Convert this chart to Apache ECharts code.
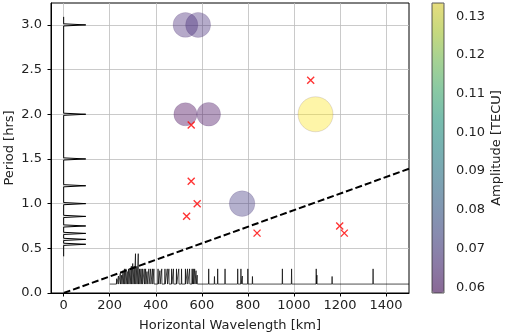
<!DOCTYPE html>
<html>
<head>
<meta charset="utf-8">
<script src="https://cdn.jsdelivr.net/npm/echarts@6/dist/echarts.min.js"></script>
<style>html,body{margin:0;padding:0;background:#fff}#chart{width:505px;height:335px}</style>
</head>
<body>
<div id="chart"></div>
<script>
// circles: wavelength [km], period [hrs], amplitude [TECU]
var circleX = [529, 584, 529, 630, 1094, 775];
var circleY = [3.0, 3.0, 2.0, 2.0, 2.0, 1.0];
var circleAmp = [0.067, 0.068, 0.0585, 0.061, 0.1334, 0.071];

// red crosses
var crossX = [1073, 554, 554, 580, 534, 1199, 1219, 840];
var crossY = [2.38, 1.88, 1.25, 1.0, 0.86, 0.75, 0.67, 0.67];

// dashed line
var dashX = [0, 1500];
var dashY = [0, 1.39];

// left spectrum (period peaks)
var leftPeriods = [0.545, 0.6, 0.667, 0.75, 0.857, 1.0, 1.2, 1.5, 2.0, 3.0];
var leftAmp = [96, 96, 96, 96, 96, 96, 96, 96, 96, 96];
var leftRange = [0.41, 3.09];

// bottom spectrum (wavelength peaks)
var bottomX = [230, 238, 246, 252, 258, 264, 270, 276, 282, 288, 294, 300, 306, 312, 318, 324, 330, 336, 342,
    350, 356, 362, 370, 378, 386, 392, 410, 418, 426, 440, 450, 457, 469, 477, 490, 500, 512, 529, 538, 547,
    558, 563, 569, 575, 580, 630, 655, 669, 701, 756, 770, 776, 800, 820, 950, 990, 1097, 1100, 1166, 1344];
var bottomTop = [0.16, 0.19, 0.22, 0.2, 0.25, 0.27, 0.27, 0.24, 0.27, 0.27, 0.3, 0.33, 0.3, 0.44, 0.3, 0.44, 0.27, 0.27, 0.27,
    0.27, 0.27, 0.24, 0.27, 0.27, 0.27, 0.27, 0.27, 0.25, 0.27, 0.27, 0.27, 0.27, 0.27, 0.27, 0.27, 0.27, 0.27, 0.27, 0.27, 0.27,
    0.27, 0.27, 0.27, 0.25, 0.2, 0.27, 0.185, 0.27, 0.27, 0.27, 0.27, 0.19, 0.27, 0.185, 0.27, 0.27, 0.27, 0.2, 0.185, 0.27];
var bottomBase = 0.1;
var bottomRange = [200, 1500];

var xTicks = [0, 200, 400, 600, 800, 1000, 1200, 1400];
var yTicks = [0, 0.5, 1.0, 1.5, 2.0, 2.5, 3.0];
var cbTicks = [0.06, 0.07, 0.08, 0.09, 0.10, 0.11, 0.12, 0.13];

var viridis = ['#440154', '#482475', '#414487', '#355f8d', '#2a788e', '#21918c',
    '#22a884', '#44bf70', '#7ad151', '#bddf26', '#fde725'];

var myChart = echarts.init(document.getElementById('chart'));

var circleData = [];
for (var i = 0; i < circleX.length; i++) {
    circleData.push([circleX[i], circleY[i], circleAmp[i]]);
}
var crossData = [];
for (var i = 0; i < crossX.length; i++) {
    crossData.push([crossX[i], crossY[i]]);
}
var dashData = [];
for (var i = 0; i < dashX.length; i++) {
    dashData.push([dashX[i], dashY[i]]);
}

// spike lines: baseline with narrow wedges at each peak
var wy = 0.012;
var leftData = [[0, leftRange[0]]];
for (var i = 0; i < leftPeriods.length; i++) {
    leftData.push([0, leftPeriods[i] - wy], [leftAmp[i], leftPeriods[i]], [0, leftPeriods[i] + wy]);
}
leftData.push([0, leftRange[1]]);

var wx = 1;
var bottomData = [[bottomRange[0], bottomBase]];
for (var i = 0; i < bottomX.length; i++) {
    bottomData.push([bottomX[i] - wx, bottomBase], [bottomX[i], bottomTop[i]], [bottomX[i] + wx, bottomBase]);
}
bottomData.push([bottomRange[1], bottomBase]);

var font = 'DejaVu Sans';
var txt = {color: '#222', fontFamily: font, fontSize: 13};

var option = {
    animation: false,
    grid: [
        {left: 51, right: 96, top: 3, bottom: 42, show: true, borderColor: '#000', borderWidth: 1,
            outerBoundsMode: 'none'},
        {left: 432, width: 12, top: 3, height: 290, show: true, borderColor: '#333', borderWidth: 0.8,
            backgroundColor: 'transparent', z: 10, outerBoundsMode: 'none'}
    ],
    xAxis: [
        {
            type: 'value', gridIndex: 0, min: -55, max: 1500,
            name: 'Horizontal Wavelength [km]', nameLocation: 'middle', nameGap: 26, nameMoveOverlap: false,
            nameTextStyle: txt,
            axisLine: {show: true, onZero: false, lineStyle: {color: '#000'}},
            axisTick: {show: true, length: 3.5, customValues: xTicks, lineStyle: {color: '#000'}},
            axisLabel: {customValues: xTicks, margin: 6, color: '#222', fontFamily: font, fontSize: 13,
                formatter: function (v) { return String(v); }},
            splitLine: {show: true, lineStyle: {color: '#bdbdbd', width: 0.8}}
        },
        {type: 'value', gridIndex: 1, min: 0, max: 1, show: false}
    ],
    yAxis: [
        {
            type: 'value', gridIndex: 0, min: 0, max: 3.245,
            name: 'Period [hrs]', nameLocation: 'middle', nameGap: 35, nameRotate: 90, nameMoveOverlap: false,
            nameTextStyle: txt,
            axisLine: {show: true, onZero: false, lineStyle: {color: '#000'}},
            axisTick: {show: true, length: 3.5, customValues: yTicks, lineStyle: {color: '#000'}},
            axisLabel: {customValues: yTicks, margin: 9, color: '#222', fontFamily: font, fontSize: 13,
                formatter: function (v) { return v.toFixed(1); }},
            splitLine: {show: true, lineStyle: {color: '#bdbdbd', width: 0.8}}
        },
        {
            type: 'value', gridIndex: 1, min: 0.0585, max: 0.1334, position: 'right',
            name: 'Amplitude [TECU]', nameLocation: 'middle', nameGap: 46, nameRotate: 90, nameMoveOverlap: false,
            nameTextStyle: txt,
            axisLine: {show: false},
            axisTick: {show: true, length: 3.5, customValues: cbTicks, lineStyle: {color: '#000'}},
            axisLabel: {customValues: cbTicks, margin: 12, color: '#222', fontFamily: font, fontSize: 13,
                formatter: function (v) { return v.toFixed(2); }},
            splitLine: {show: false}
        }
    ],
    visualMap: {
        type: 'continuous', seriesIndex: 0, dimension: 2,
        min: 0.0585, max: 0.1334,
        left: 432, top: 3, itemWidth: 12, itemHeight: 290, padding: 0,
        text: null, showLabel: false, calculable: false, realtime: false,
        inRange: {color: viridis, colorAlpha: 0.5}
    },
    series: [
        {
            name: 'amplitude', type: 'scatter', xAxisIndex: 0, yAxisIndex: 0,
            data: circleData,
            symbolSize: function (val) { return 96 * Math.sqrt(val[2]); },
            itemStyle: {borderWidth: 1, borderColor: 'rgba(70,40,100,0.18)'},
            z: 2
        },
        {
            name: 'cross', type: 'scatter', xAxisIndex: 0, yAxisIndex: 0,
            data: crossData,
            symbol: 'path://M0,0L10,10M10,0L0,10',
            symbolSize: 7,
            itemStyle: {color: 'transparent', borderColor: '#ff0000', borderWidth: 1.4},
            z: 3
        },
        {
            name: 'period spectrum', type: 'line', xAxisIndex: 0, yAxisIndex: 0,
            data: leftData, showSymbol: false, symbol: 'none',
            lineStyle: {color: '#000', width: 1}, z: 4
        },
        {
            name: 'wavelength spectrum', type: 'line', xAxisIndex: 0, yAxisIndex: 0,
            data: bottomData, showSymbol: false, symbol: 'none',
            lineStyle: {color: '#000', width: 0.7}, z: 4
        },
        {
            name: 'dash', type: 'line', xAxisIndex: 0, yAxisIndex: 0,
            data: dashData, showSymbol: false, symbol: 'none',
            lineStyle: {color: '#000', width: 2, type: [7, 3]}, z: 5
        }
    ]
};

myChart.setOption(option);
</script>
</body>
</html>
